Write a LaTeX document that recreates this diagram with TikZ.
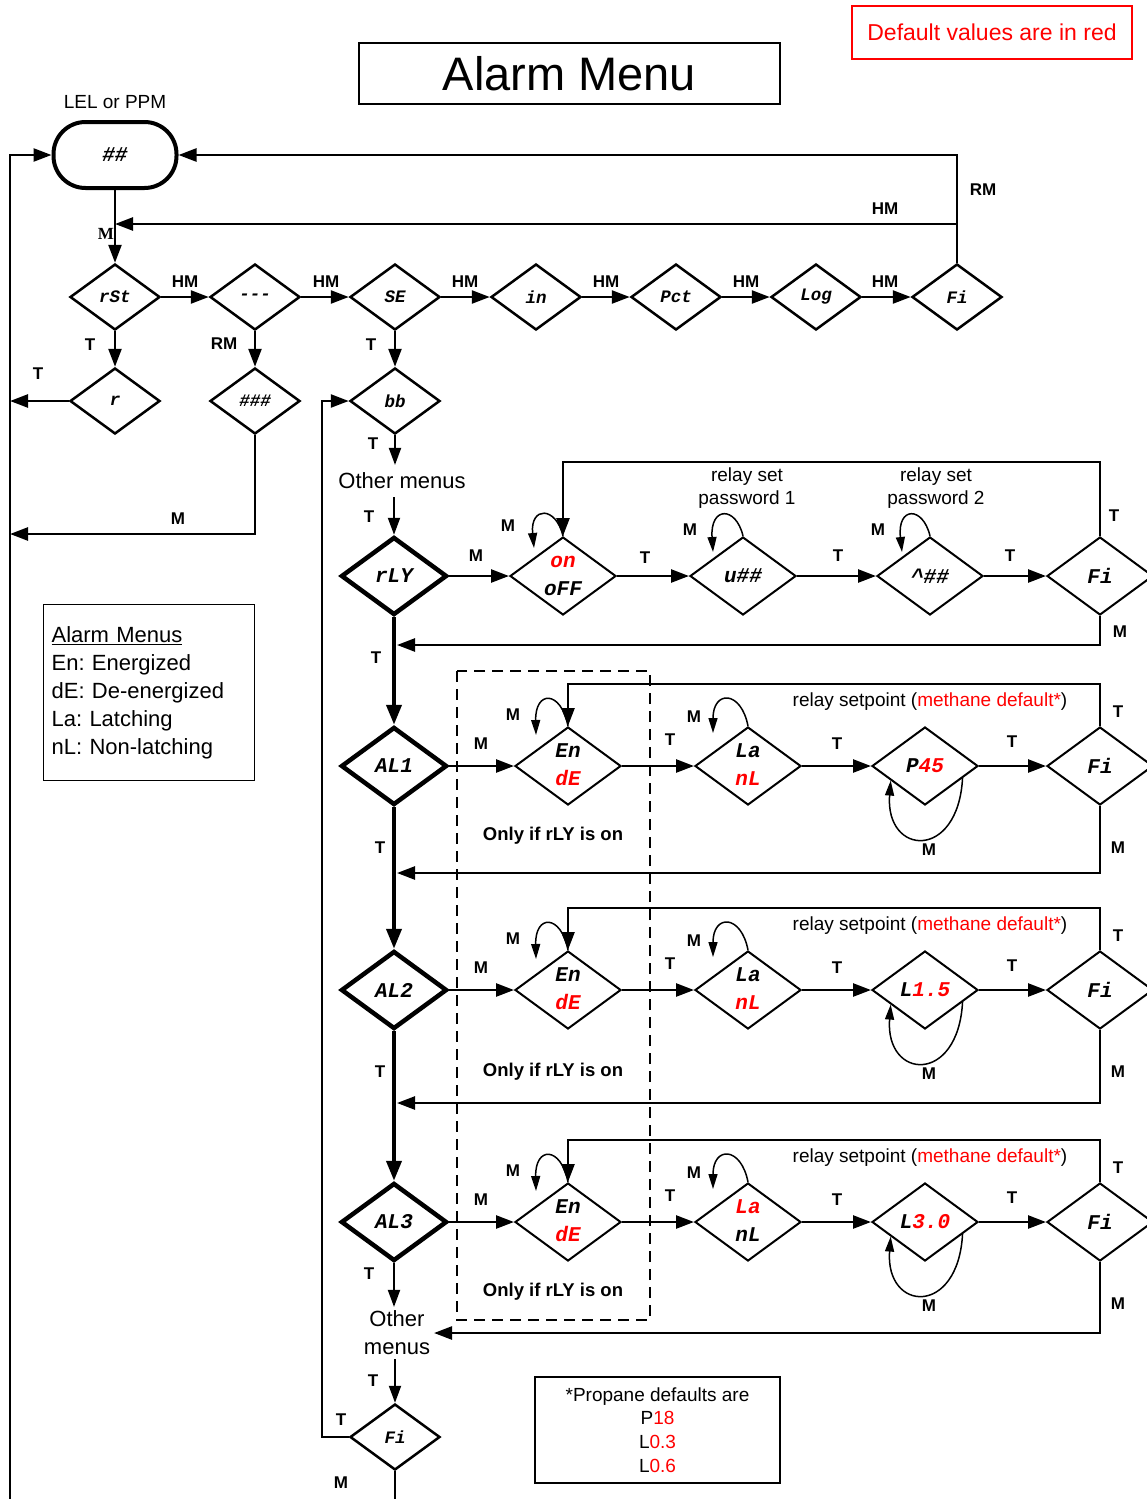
\documentclass[tikz,border=0pt]{standalone}
\usepackage{fontspec}
\setmainfont{Liberation Sans}
\setmonofont{Liberation Mono}
\newfontfamily\serifb{Liberation Serif}
\usetikzlibrary{shapes.geometric,arrows.meta}
\definecolor{dred}{RGB}{255,0,0}
\frenchspacing
\newcommand\fs[2]{\fontsize{#1}{#2}\selectfont}
\newcommand\dt[1]{\makebox[0pt]{#1}}
\newcommand\dtt[2]{\makebox[0pt]{\begin{tabular}{@{}c@{}}#1\\[3pt]#2\end{tabular}}}
\newcommand\rd[1]{\textcolor{dred}{#1}}
\tikzset{
  dia/.style={diamond, draw, line width=2.5pt, minimum width=90pt, minimum height=66pt, inner sep=0pt, font=\ttfamily\bfseries\itshape\fs{17.5}{20}},
  bdia/.style={diamond, draw, line width=2pt, minimum width=106pt, minimum height=78pt, inner sep=0pt, font=\ttfamily\bfseries\itshape\fs{21}{25}},
  tdia/.style={bdia, line width=4.5pt},
  con/.style={line width=2.5pt, -{Triangle[length=18pt,width=13pt]}},
  ncon/.style={line width=2pt, -{Triangle[length=17pt,width=12pt]}},
  tcon/.style={line width=4pt, -{Triangle[length=20pt,width=15pt]}},
  plainl/.style={line width=2.5pt},
  lp/.style={line width=1.5pt, -{Triangle[length=15pt,width=9pt]}},
  el/.style={font=\bfseries\fs{17}{20}, inner sep=0pt},
  tx/.style={font=\fs{19}{23}, inner sep=0pt, align=center},
}
\begin{document}
\begin{tikzpicture}[x=1pt,y=-1pt]
\useasboundingbox (0,0) rectangle (1147,1499);

% titles
\node[draw, line width=1.3pt, minimum width=421pt, minimum height=61pt, font=\fs{47}{50}] (title) at (569.5,73.5) {Alarm Menu};
\node[draw=dred, line width=1.3pt, minimum width=280pt, minimum height=53pt, text=dred, font=\fs{23}{26}] (def) at (992,32.5) {Default values are in red};
\node[font=\fs{19}{22}, inner sep=0pt] (lel) at (115,102) {LEL or PPM};

% start
\node[draw, line width=4pt, rounded corners=32pt, minimum width=123pt, minimum height=66pt, font=\ttfamily\bfseries\itshape\fs{21}{25}] (start) at (115,155) {\#\#};

% left rail
\coordinate (lb) at (10,1499);
\draw[con] (lb) |- (start.west);

% row 1
\node[dia] (rSt) at (115,297) {\dt{rSt}};
\node[dia] (dsh) at (255,297) {\dt{-{}-{}-}};
\node[dia] (SE) at (395,297) {\dt{SE}};
\node[dia] (in) at (536,297) {\dt{in}};
\node[dia] (Pct) at (676,297) {\dt{Pct}};
\node[dia] (Log) at (816,297) {\dt{Log}};
\node[dia] (Fi1) at (957,297) {\dt{Fi}};
\draw[con] (start.south) -- (rSt.north);
\node[font=\serifb\bfseries\fs{17}{20}, inner sep=0pt] at (106,234) {M};
\draw[con] (rSt) -- (dsh);
\draw[con] (dsh) -- (SE);
\draw[con] (SE) -- (in);
\draw[con] (in) -- (Pct);
\draw[con] (Pct) -- (Log);
\draw[con] (Log) -- (Fi1);
\foreach \x in {185,326,465,606,746,885} \node[el] at (\x,282) {HM};
\draw[con] (Fi1.north) |- (start.east);
\node[el] at (983,190) {RM};
\coordinate (j1) at (957,224);
\coordinate (j1e) at (115,224);
\draw[con] (j1) -- (j1e);
\node[el] at (885,209) {HM};

% row 2
\node[dia] (r) at (115,401) {\dt{r}};
\node[dia] (h3) at (255,401) {\dt{\#\#\#}};
\node[dia] (bb) at (395,401) {\dt{bb}};
\draw[con] (rSt.south) -- (r.north);
\node[el] at (90,345) {T};
\coordinate (rl) at (10,401);
\draw[con] (r.west) -- (rl);
\node[el] at (38,374) {T};
\draw[con] (dsh.south) -- (h3.north);
\node[el] at (224,344) {RM};
\coordinate (ml) at (10,534);
\draw[con] (h3.south) |- (ml);
\node[el] at (178,519) {M};
\draw[con] (SE.south) -- (bb.north);
\node[el] at (371,345) {T};

\node[font=\fs{22}{26}, inner sep=0pt, outer sep=8pt] (om1) at (402,481) {Other menus};
\draw[ncon] (bb.south) -- (bb.south |- om1.north);
\node[el] at (373,444) {T};

% relay row
\node[tdia] (rLY) at (394,576) {\dt{rLY}};
\node[bdia] (oo) at (563,576) {\dtt{\rd{on}}{oFF}};
\node[bdia] (u) at (743,576) {\dt{u\#\#}};
\node[bdia] (cc) at (930,576) {\dt{\textasciicircum\#\#}};
\node[bdia] (F0) at (1100,576) {\dt{Fi}};
\coordinate (omb) at (394,497);
\draw[ncon] (omb) -- (rLY.north);
\node[el] at (369,517) {T};
\draw[con] (rLY) -- (oo);
\draw[con] (oo) -- (u);
\draw[con] (u) -- (cc);
\draw[con] (cc) -- (F0);
\node[el] at (476,556) {M};
\node[el] at (645,558) {T};
\node[el] at (838,556) {T};
\node[el] at (1010,556) {T};
\draw[con] (F0.north) -- ++(0,-74) -| (oo.north);
\node[el] at (1114,516) {T};
\node[tx] at (747,488) {relay set\\password 1};
\node[tx] at (936,488) {relay set\\password 2};
\draw[lp] (oo.north) .. controls (556,506) and (530,506) .. (534,548);
\draw[lp] (u.north) .. controls (736,506) and (710,506) .. (713,552);
\draw[lp] (cc.north) .. controls (923,506) and (897,506) .. (902,552);
\node[el] at (508,526) {M};
\node[el] at (690,530) {M};
\node[el] at (878,530) {M};
\coordinate (ret0) at (397,645);
\draw[con] (F0.south) |- (ret0);
\node[el] at (1120,632) {M};
\node[el] at (376,658) {T};

% dashed region
\draw[line width=2pt, dash pattern=on 11pt off 7pt] (457,671) rectangle (650,1320);

% alarm rows
\foreach \n/\yy/\lA/\lB/\pv in {1/766/La/{\rd{nL}}/{P\rd{45}}, 2/990/La/{\rd{nL}}/{L\rd{1.5}}, 3/1222/{\rd{La}}/nL/{L\rd{3.0}}}{
  \node[tdia] (AL\n) at (394,\yy) {\dt{AL\n}};
  \node[bdia] (En\n) at (568,\yy) {\dtt{En}{\rd{dE}}};
  \node[bdia] (La\n) at (748,\yy) {\dtt{\lA}{\lB}};
  \node[bdia] (P\n) at (925,\yy) {\dt{\pv}};
  \node[bdia] (F\n) at (1100,\yy) {\dt{Fi}};
  \draw[con] (AL\n) -- (En\n);
  \draw[con] (En\n) -- (La\n);
  \draw[con] (La\n) -- (P\n);
  \draw[con] (P\n) -- (F\n);
  \draw[con] (F\n.north) -- ++(0,-42) -| (En\n.north);
  \node[tx] at (930,\yy-64) {relay setpoint (\rd{methane default*})};
  \draw[lp] (En\n.north) .. controls (561,\yy-76) and (535,\yy-76) .. (536,\yy-31);
  \draw[lp] (La\n.north) .. controls (741,\yy-76) and (713,\yy-76) .. (713,\yy-33);
  \draw[lp] (P\n.-18) .. controls (958,\yy+95) and (885,\yy+90) .. (P\n.-157);
  \node[el] at (481,\yy-22) {M};
  \node[el] at (670,\yy-26) {T};
  \node[el] at (837,\yy-22) {T};
  \node[el] at (1012,\yy-24) {T};
  \node[el] at (1118,\yy-54) {T};
  \node[el] at (1118,\yy+82) {M};
  \node[el] at (513,\yy-51) {M};
  \node[el] at (694,\yy-49) {M};
  \node[el] at (929,\yy+84) {M};
}
\draw[tcon] (rLY) -- (AL1);
\draw[tcon] (AL1) -- (AL2);
\draw[tcon] (AL2) -- (AL3);
\node[el] at (380,848) {T};
\node[el] at (380,1072) {T};
\coordinate (ret1) at (397,873);
\coordinate (ret2) at (397,1103);
\draw[con] (F1.south) |- (ret1);
\draw[con] (F2.south) |- (ret2);

\node[font=\bfseries\fs{18.5}{22}, inner sep=0pt] at (553,836) {Only if rLY is on};
\node[font=\bfseries\fs{18.5}{22}, inner sep=0pt] at (553,1072) {Only if rLY is on};
\node[font=\bfseries\fs{18.5}{22}, inner sep=0pt] at (553,1292) {Only if rLY is on};

% bottom
\node[font=\fs{22}{28}, align=center, inner sep=0pt, outer sep=4pt] (oth) at (397,1333) {Other\\menus};
\draw[ncon] (AL3.south) -- (AL3.south |- oth.north);
\node[el] at (369,1274) {T};
\draw[con] (F3.south) |- (oth.east);
\node[dia] (FiB) at (395,1437) {\dt{Fi}};
\draw[ncon] (oth.south -| FiB.north) -- (FiB.north);
\node[el] at (373,1381) {T};
\draw[con] (FiB.west) -- ++(-27,0) |- (bb.west);
\node[el] at (341,1420) {T};
\coordinate (bot) at (395,1499);
\draw[plainl] (FiB.south) -- (bot);
\node[el] at (341,1483) {M};

% legends
\node[draw, line width=1.2pt, anchor=north west, minimum width=211pt, minimum height=176pt, text width=195pt, inner xsep=8pt, align=left, font=\fs{22}{28}] (leg) at (43,604) {\underline{Alarm Menus}\\En: Energized\\dE: De-energized\\La: Latching\\nL: Non-latching};
\node[draw, line width=1.2pt, minimum width=245pt, minimum height=106pt, align=center, font=\fs{19}{23.7}] (prop) at (657.5,1430) {*Propane defaults are\\P\rd{18}\\L\rd{0.3}\\L\rd{0.6}};
\end{tikzpicture}
\end{document}
